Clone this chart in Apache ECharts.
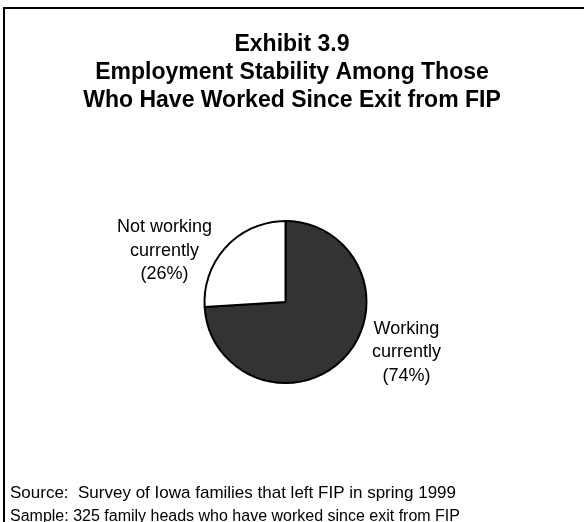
<!DOCTYPE html>
<html>
<head>
<meta charset="utf-8">
<script src="https://cdn.jsdelivr.net/npm/echarts@6/dist/echarts.min.js"></script>
<style>
  html, body { margin: 0; padding: 0; background: #ffffff; }
  #chart { width: 584px; height: 522px; }
</style>
</head>
<body>
<div id="chart"></div>
<script>
// Employment status of FIP leavers who have worked since exit
const categories = ['Working\ncurrently', 'Not working\ncurrently'];
const shares = [74, 26];
const sliceColors = ['#333333', '#ffffff'];

const titleLines = [
  'Exhibit 3.9',
  'Employment Stability Among Those',
  'Who Have Worked Since Exit from FIP'
];
const sourceNote = 'Source:  Survey of Iowa families that left FIP in spring 1999';
const sampleNote = 'Sample: 325 family heads who have worked since exit from FIP';

const FONT = '"Liberation Sans", Arial, Helvetica, sans-serif';

const chart = echarts.init(document.getElementById('chart'), null, { renderer: 'canvas' });

chart.setOption({
  animation: false,
  backgroundColor: '#ffffff',
  title: [
    {
      text: titleLines.join('\n'),
      left: 'center',
      top: 26,
      textStyle: {
        fontFamily: FONT,
        fontSize: 23,
        fontWeight: 'bold',
        color: '#000000',
        lineHeight: 28
      }
    },
    {
      text: '{src|' + sourceNote + '}\n{smp|' + sampleNote + '}',
      left: 5,
      top: 477,
      textStyle: {
        fontFamily: FONT,
        fontWeight: 'normal',
        color: '#000000',
        rich: {
          src: { fontFamily: FONT, fontWeight: 'normal', fontSize: 17, color: '#000000', lineHeight: 23 },
          smp: { fontFamily: FONT, fontWeight: 'normal', fontSize: 16, color: '#000000', lineHeight: 23 }
        }
      }
    }
  ],
  graphic: [
    {
      type: 'polyline',
      shape: { points: [[4, 522], [4, 8], [584, 8]] },
      style: { stroke: '#000000', lineWidth: 2, fill: null },
      silent: true
    }
  ],
  series: [
    {
      type: 'pie',
      center: [285.5, 302],
      radius: [0, 81],
      startAngle: 90,
      clockwise: true,
      avoidLabelOverlap: false,
      itemStyle: { borderColor: '#000000', borderWidth: 2 },
      label: {
        show: true,
        position: 'outside',
        fontFamily: FONT,
        fontSize: 18,
        color: '#000000',
        formatter: function (p) {
          const lines = (p.name + '\n(' + p.value + '%)').split('\n');
          return lines.map(function (l) { return '{t|' + l + '}'; }).join('\n');
        },
        rich: {
          t: {
            fontFamily: FONT,
            fontSize: 18,
            color: '#000000',
            width: 96,
            align: 'center',
            lineHeight: 23.5
          }
        }
      },
      labelLine: { show: false, length: 4, length2: 6 },
      // pull both labels slightly toward the horizontal axis of the pie
      labelLayout: function (params) {
        return { dy: params.dataIndex === 0 ? -8 : 7 };
      },
      data: categories.map(function (name, i) {
        return { name: name, value: shares[i], itemStyle: { color: sliceColors[i] } };
      })
    }
  ]
});
</script>
</body>
</html>
